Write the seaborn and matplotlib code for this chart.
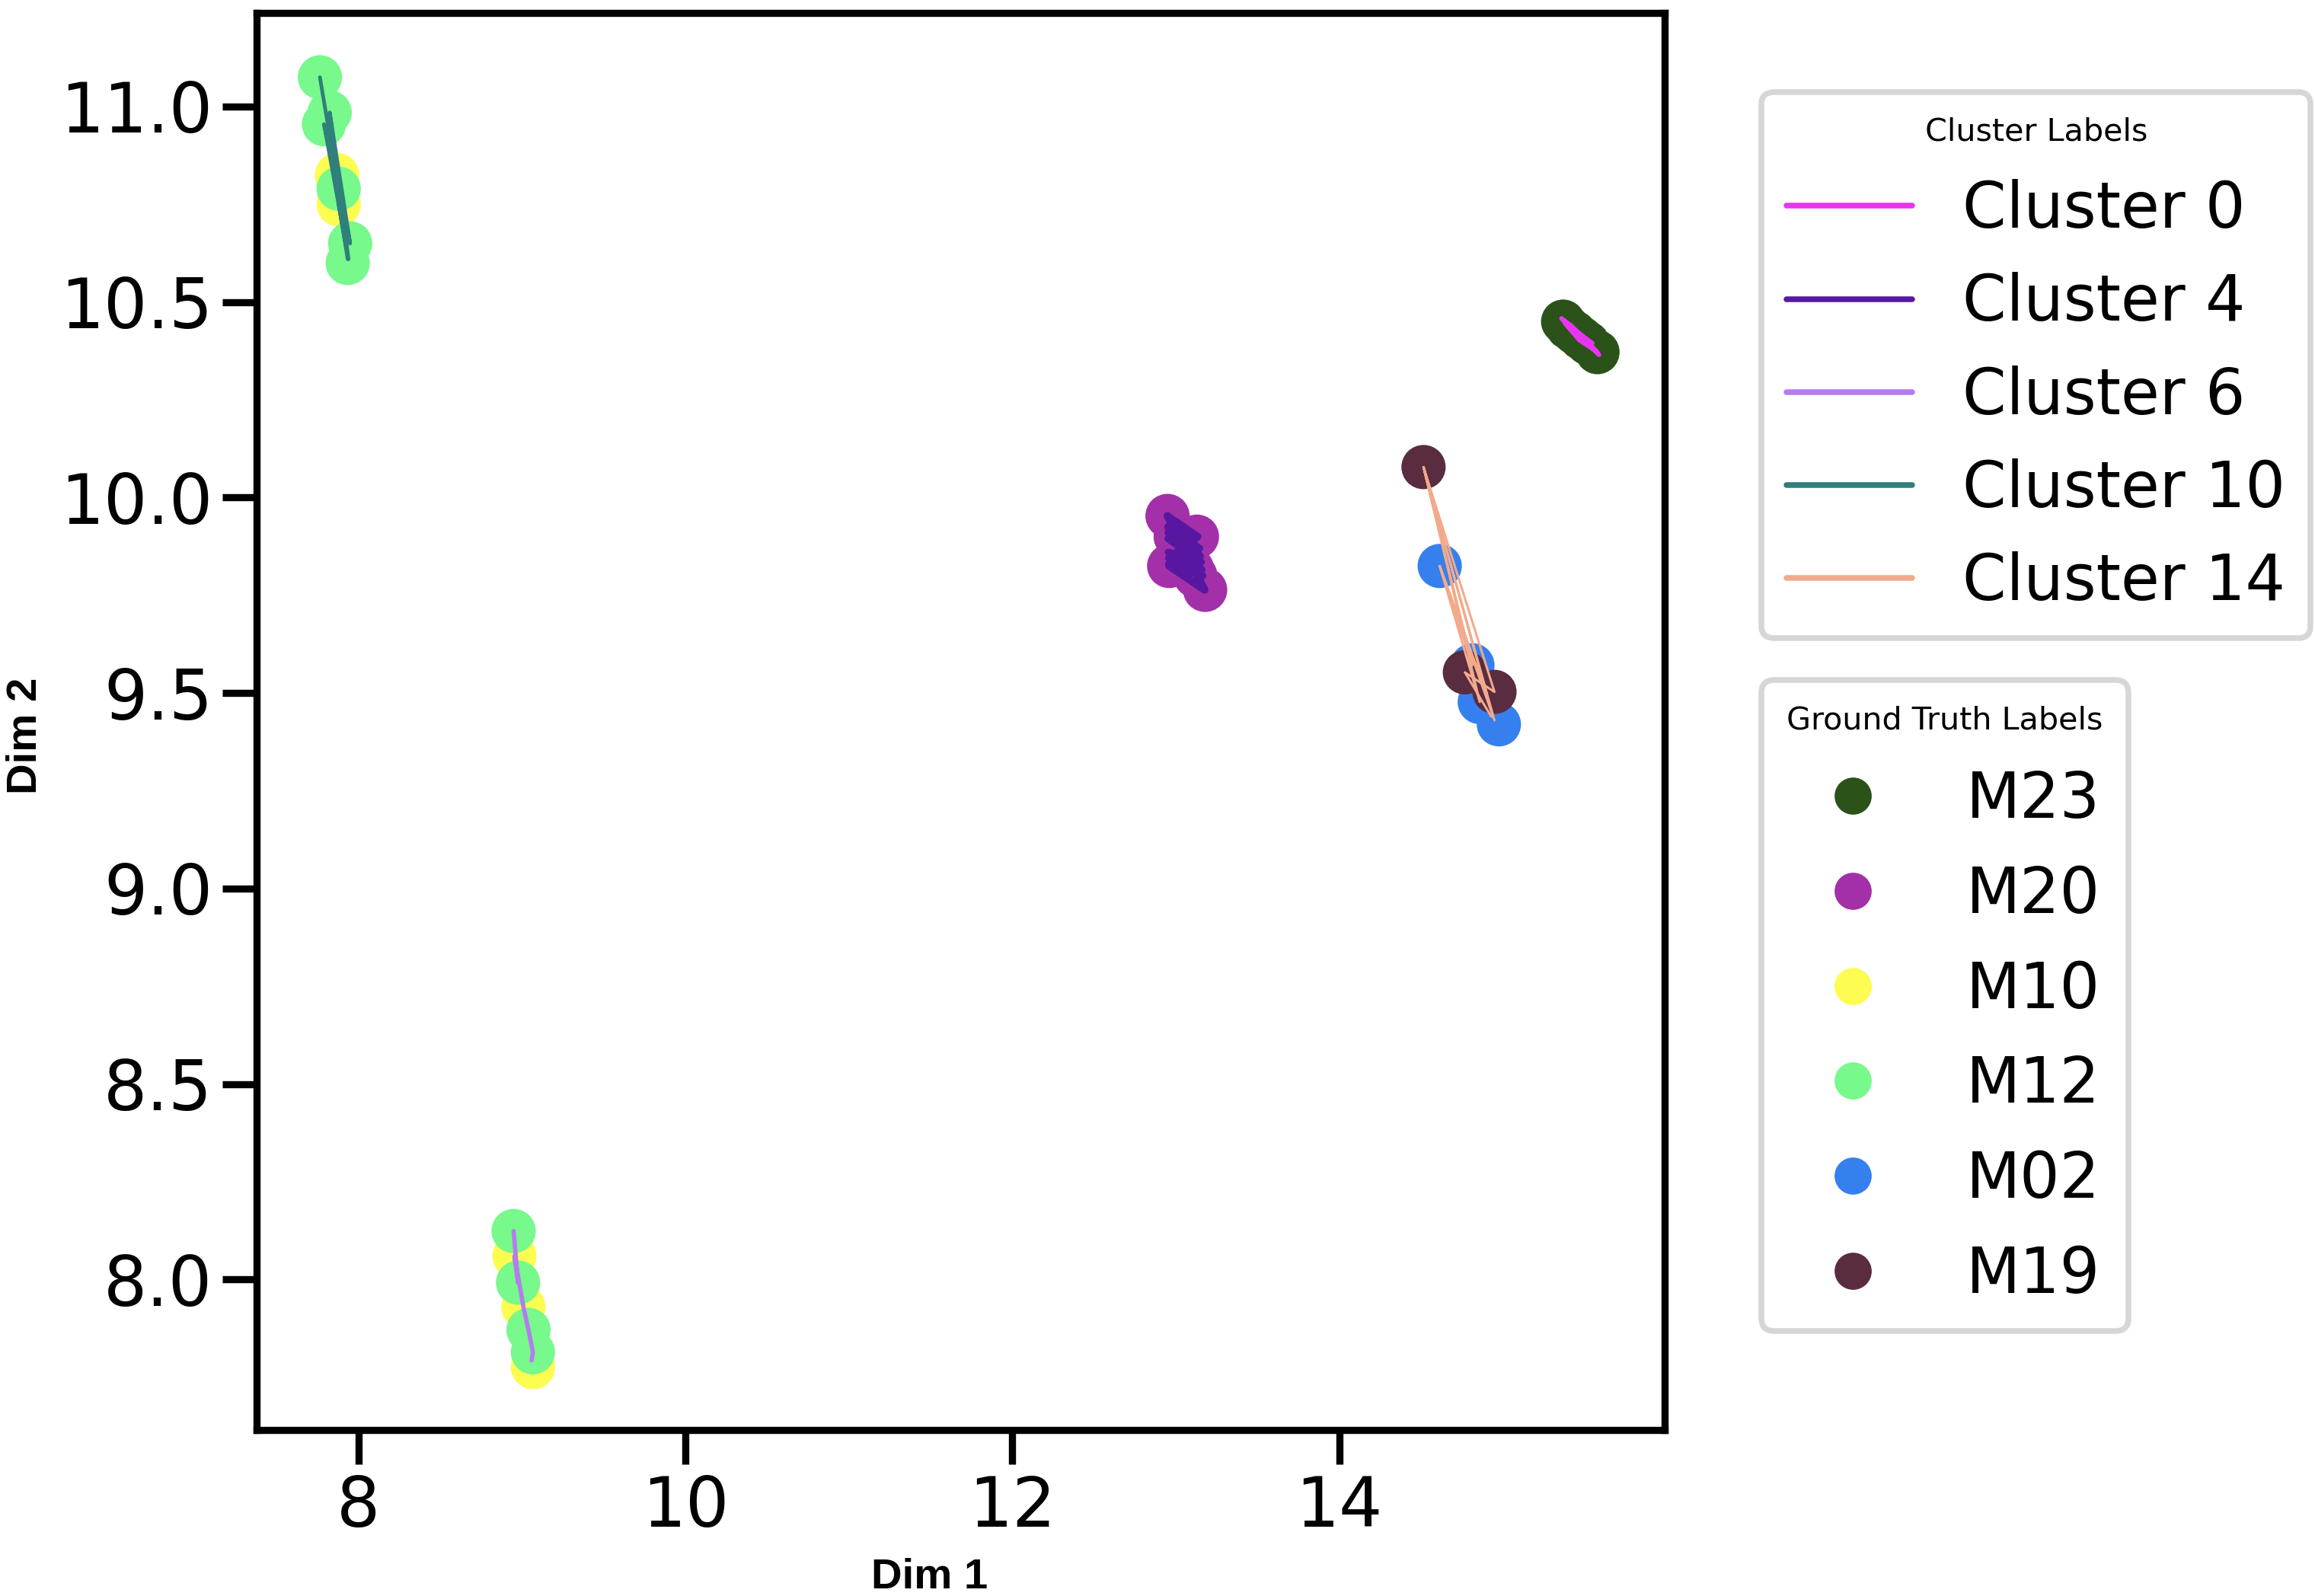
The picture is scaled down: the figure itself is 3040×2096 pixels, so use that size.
import pandas as pd
import seaborn as sns
import matplotlib.pyplot as plt
from matplotlib.lines import Line2D

# ground truth points
gt_labels = ['M23', 'M20', 'M10', 'M12', 'M02', 'M19']
gt_colors = ['#2b5219', '#a330a8', '#fdfc50', '#77f98b', '#3580ee', '#5a2c40']

m23_x = [15.37, 15.40, 15.44, 15.48, 15.52, 15.58]
m23_y = [10.450, 10.435, 10.422, 10.408, 10.395, 10.372]
m20_x = [12.95, 13.13, 13.18, 12.96, 13.05, 13.10, 13.00, 13.12]
m20_y = [9.953, 9.900, 9.764, 9.825, 9.866, 9.817, 9.900, 9.800]
m10_x = [7.870, 7.880, 8.955, 9.010, 9.068]
m10_y = [10.825, 10.750, 8.060, 7.930, 7.776]
m12_x = [7.765, 7.790, 7.825, 7.880, 7.950, 7.935, 8.950, 8.977, 9.041, 9.068]
m12_y = [11.075, 10.955, 10.985, 10.790, 10.650, 10.600, 8.124, 7.992, 7.871, 7.814]
m02_x = [14.615, 14.815, 14.860, 14.977]
m02_y = [9.825, 9.571, 9.477, 9.420]
m19_x = [14.516, 14.769, 14.950]
m19_y = [10.078, 9.553, 9.503]

# cluster paths (points joined in order)
cl_labels = ['Cluster 0', 'Cluster 4', 'Cluster 6', 'Cluster 10', 'Cluster 14']
cl_colors = ['#e835f0', '#5717a0', '#b57cf0', '#2f7f7a', '#f2aa8c']

c0_x = [15.36, 15.45, 15.59, 15.50, 15.36, 15.42, 15.58, 15.47, 15.38, 15.55]
c0_y = [10.458, 10.418, 10.365, 10.410, 10.458, 10.440, 10.372, 10.402, 10.446, 10.395]
c4_x = [12.950, 13.135, 12.952, 13.145, 12.954, 13.155, 12.956, 13.165, 12.958, 13.176,
        12.950, 13.150, 12.955, 13.160, 12.958, 13.131, 12.959, 13.176, 12.950]
c4_y = [9.953, 9.900, 9.925, 9.870, 9.895, 9.835, 9.860, 9.800, 9.830, 9.764,
        9.953, 9.850, 9.910, 9.815, 9.845, 9.900, 9.825, 9.764, 9.953]
c6_x = [8.950, 8.977, 8.955, 9.010, 9.041, 9.068, 9.060]
c6_y = [8.124, 7.992, 8.060, 7.930, 7.871, 7.814, 7.793]
c10_x = [7.765, 7.880, 7.790, 7.940, 7.825, 7.950, 7.870, 7.880, 7.935]
c10_y = [11.075, 10.790, 10.955, 10.610, 10.985, 10.650, 10.825, 10.750, 10.610]
c14_x = [14.516, 14.860, 14.615, 14.950, 14.516, 14.815, 14.615, 14.900, 14.516, 14.950, 14.769, 14.930]
c14_y = [10.078, 9.477, 9.825, 9.430, 10.078, 9.571, 9.825, 9.500, 10.078, 9.503, 9.553, 9.440]

pts = pd.DataFrame({
    'x': m23_x + m20_x + m10_x + m12_x + m02_x + m19_x,
    'y': m23_y + m20_y + m10_y + m12_y + m02_y + m19_y,
    'label': (['M23'] * len(m23_x) + ['M20'] * len(m20_x) + ['M10'] * len(m10_x)
              + ['M12'] * len(m12_x) + ['M02'] * len(m02_x) + ['M19'] * len(m19_x)),
})
paths = pd.DataFrame({
    'x': c0_x + c4_x + c6_x + c10_x + c14_x,
    'y': c0_y + c4_y + c6_y + c10_y + c14_y,
    'cluster': (['Cluster 0'] * len(c0_x) + ['Cluster 4'] * len(c4_x) + ['Cluster 6'] * len(c6_x)
                + ['Cluster 10'] * len(c10_x) + ['Cluster 14'] * len(c14_x)),
})

sns.set_theme(context='poster', style='ticks')
plt.rcParams['font.family'] = ['DejaVu Sans']
for k in ['text.color', 'axes.labelcolor', 'xtick.color', 'ytick.color', 'axes.edgecolor']:
    plt.rcParams[k] = 'black'

fig = plt.figure(figsize=(3040 / 270, 2096 / 270), dpi=270)
ax = fig.add_axes([0.111, 0.104, 0.608, 0.888])

pal = dict(zip(cl_labels, cl_colors))
sns.scatterplot(data=pts, x='x', y='y', hue='label', hue_order=gt_labels,
                palette=dict(zip(gt_labels, gt_colors)), s=240, linewidth=0,
                legend=False, ax=ax)
# line width differs a bit between clusters in the original
widths = {'Cluster 0': 1.5, 'Cluster 4': 2.6, 'Cluster 6': 1.5, 'Cluster 10': 1.3, 'Cluster 14': 0.8}
for cl in cl_labels:
    sub = paths[paths['cluster'] == cl]
    sns.lineplot(data=sub, x='x', y='y', hue='cluster', palette=pal, sort=False,
                 estimator=None, linewidth=widths[cl], legend=False, ax=ax)

ax.set_xlim(7.38, 15.99)
ax.set_ylim(7.615, 11.24)
ax.set_xticks([8, 10, 12, 14])
ax.set_yticks([8.0, 8.5, 9.0, 9.5, 10.0, 10.5, 11.0])
ax.tick_params(labelsize=24)

lab_font = dict(fontsize=15, fontweight='bold', family=['Liberation Sans', 'DejaVu Sans'])
ax.set_xlabel('Dim 1', **lab_font)
ax.set_ylabel('Dim 2', **lab_font)
ax.xaxis.set_label_coords(0.478, -0.09)
ax.yaxis.set_label_coords(-0.15, 0.49)

cl_handles = [Line2D([0], [0], color=c, lw=2) for c in cl_colors]
leg1 = ax.legend(cl_handles, cl_labels, title='Cluster Labels', title_fontsize=11,
                 loc='upper left', bbox_to_anchor=(1.069, 0.944), borderaxespad=0,
                 fontsize=22)
ax.add_artist(leg1)
gt_handles = [Line2D([0], [0], marker='o', color='none', markerfacecolor=c,
                     markeredgewidth=0, markersize=13) for c in gt_colors]
ax.legend(gt_handles, gt_labels, title='Ground Truth Labels', title_fontsize=11,
          loc='upper left', bbox_to_anchor=(1.069, 0.529), borderaxespad=0,
          fontsize=22, labelspacing=0.53)

plt.savefig('out.png', dpi=270)
